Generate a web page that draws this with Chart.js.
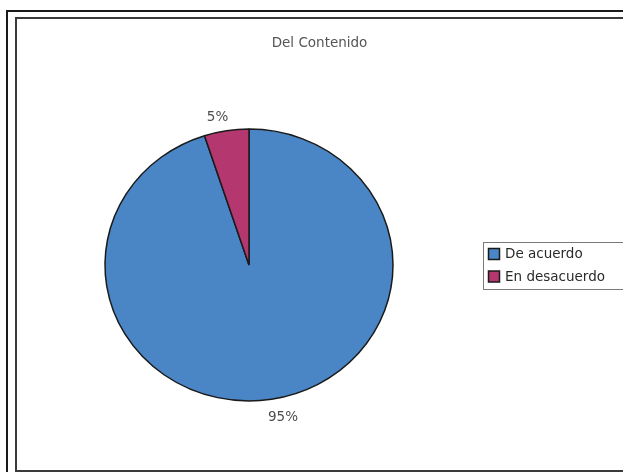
<!DOCTYPE html>
<html>
<head>
<meta charset="utf-8">
<script src="https://cdn.jsdelivr.net/npm/chart.js@4/dist/chart.umd.min.js"></script>
<style>
  html, body { margin: 0; padding: 0; background: #ffffff; overflow: hidden; }
  #wrap { position: relative; width: 623px; height: 472px; }
  #outer { position: absolute; left: 6px; top: 10px; width: 700px; height: 500px; border: 2px solid #1a1a1a; box-sizing: border-box; }
  #inner { position: absolute; left: 15px; top: 17px; width: 700px; height: 455px; border: 2px solid #3a3a3a; border-right: none; box-sizing: border-box; }
  canvas { position: absolute; left: 0; top: 0; }
</style>
</head>
<body>
<div id="wrap">
  <div id="outer"></div>
  <div id="inner"></div>
  <canvas id="c" width="623" height="472"></canvas>
</div>
<script>
const chartTitle = "Del Contenido";
const categories = ["De acuerdo", "En desacuerdo"];
const values = [95, 5];
const sliceColors = ["#4a86c6", "#b5376f"];

const FONT = "'DejaVu Sans', Verdana, sans-serif";
const Y_SCALE = 0.944;

const ellipsePlugin = {
  id: 'ellipse',
  beforeDatasetsDraw(chart) {
    const arc = chart.getDatasetMeta(0).data[0];
    const ctx = chart.ctx;
    ctx.save();
    ctx.translate(arc.x, arc.y);
    ctx.scale(1, Y_SCALE);
    ctx.translate(-arc.x, -arc.y);
  },
  afterDatasetsDraw(chart) {
    chart.ctx.restore();
  }
};

const decorPlugin = {
  id: 'decor',
  afterDraw(chart) {
    const ctx = chart.ctx;
    const meta = chart.getDatasetMeta(0);
    const data = chart.data.datasets[0].data;
    const total = data.reduce((a, b) => a + b, 0);
    ctx.save();
    // title
    ctx.font = "13.5px " + FONT;
    ctx.fillStyle = "#555555";
    ctx.textAlign = "center";
    ctx.textBaseline = "middle";
    ctx.fillText(chartTitle, 319.5, 43.5);

    // percentage labels
    ctx.fillStyle = "#4d4d4d";
    meta.data.forEach((arc, i) => {
      const mid = (arc.startAngle + arc.endAngle) / 2;
      const R = arc.outerRadius;
      const dx = Math.cos(mid), dy = Math.sin(mid);
      const px = arc.x + R * dx;
      const py = arc.y + R * Y_SCALE * dy;
      const txt = Math.round(data[i] / total * 100) + "%";
      const tw = ctx.measureText(txt).width;
      const cx = px + dx * 16 + Math.sign(dx) * tw * 0.3;
      const cy = py + dy * 16 + 2.5;
      ctx.fillText(txt, cx, cy);
    });

    // legend
    const lx = 483.5, ly = 242.5, lh = 47;
    ctx.strokeStyle = "#7a7a7a";
    ctx.lineWidth = 1;
    ctx.strokeRect(lx, ly, 200, lh);
    ctx.textAlign = "left";
    ctx.font = "13.5px " + FONT;
    chart.data.labels.forEach((lab, i) => {
      const y = 253.5 + i * 22.5;
      ctx.fillStyle = chart.data.datasets[0].backgroundColor[i];
      ctx.fillRect(488.5, y - 5, 11, 11);
      ctx.strokeStyle = "#1a1a1a";
      ctx.lineWidth = 1.5;
      ctx.strokeRect(488.5, y - 5, 11, 11);
      ctx.fillStyle = "#2a2a2a";
      ctx.fillText(lab, 505, y + 1);
    });
    ctx.restore();
  }
};

new Chart(document.getElementById('c'), {
  type: 'pie',
  data: {
    labels: categories,
    datasets: [{
      data: values,
      backgroundColor: sliceColors,
      borderColor: "#1a1a1a",
      borderWidth: 1.5
    }]
  },
  options: {
    responsive: false,
    animation: false,
    radius: 144,
    layout: { padding: { left: 0, right: 125, top: 58, bottom: 0 } },
    plugins: {
      legend: { display: false },
      title: { display: false },
      tooltip: { enabled: false }
    }
  },
  plugins: [ellipsePlugin, decorPlugin]
});
</script>
</body>
</html>
